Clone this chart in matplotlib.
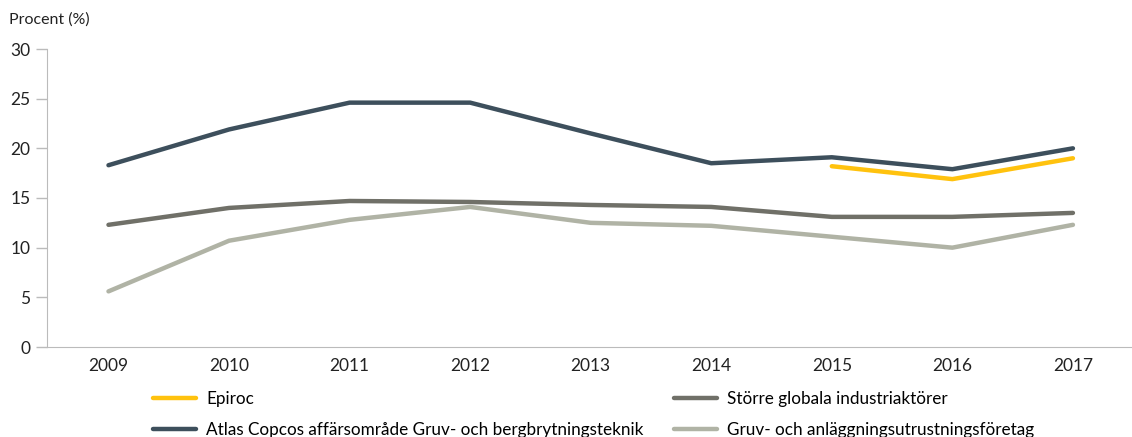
import matplotlib.pyplot as plt

plt.rcParams['font.family'] = ['Lato', 'DejaVu Sans']

years = [2009, 2010, 2011, 2012, 2013, 2014, 2015, 2016, 2017]
epiroc_years = [2015, 2016, 2017]
epiroc = [18.2, 16.9, 19.0]
atlas = [18.3, 21.9, 24.6, 24.6, 21.5, 18.5, 19.1, 17.9, 20.0]
storre = [12.3, 14.0, 14.7, 14.6, 14.3, 14.1, 13.1, 13.1, 13.5]
gruv = [5.6, 10.7, 12.8, 14.1, 12.5, 12.2, 11.1, 10.0, 12.3]

fig = plt.figure(figsize=(11.32, 4.37), dpi=100)
ax = fig.add_axes([47 / 1132, 1 - 347 / 437, 1085 / 1132, 298 / 437])

lw = 3.2
l1, = ax.plot(epiroc_years, epiroc, color='#ffc20e', lw=lw, solid_capstyle='round', label='Epiroc')
l2, = ax.plot(years, atlas, color='#3d4f5c', lw=lw, solid_capstyle='round',
              label='Atlas Copcos affärsområde Gruv- och bergbrytningsteknik')
l3, = ax.plot(years, storre, color='#707068', lw=lw, solid_capstyle='round',
              label='Större globala industriaktörer')
l4, = ax.plot(years, gruv, color='#b0b3a5', lw=lw, solid_capstyle='round',
              label='Gruv- och anläggningsutrustningsföretag')
# keep epiroc on top
l1.set_zorder(5)

ax.set_xlim(2008.49, 2017.49)
ax.set_ylim(0, 30)
ax.set_xticks(years)
ax.set_yticks([0, 5, 10, 15, 20, 25, 30])
ax.tick_params(axis='x', length=0, pad=8, labelsize=12.5, colors='#222222')
ax.tick_params(axis='y', length=8, width=1, color='#bbbbbb', labelsize=12.5,
               labelcolor='#222222', pad=4)
for s in ['top', 'right']:
    ax.spines[s].set_visible(False)
ax.spines['left'].set_color('#bbbbbb')
ax.spines['bottom'].set_color('#bbbbbb')

fig.text(9 / 1132, 1 - 20 / 437, 'Procent (%)', fontsize=11.5, color='#222222', va='center')

fig.legend(handles=[l1, l2, l3, l4], ncol=2, loc='upper left',
           bbox_to_anchor=(153 / 1132, 1 - 391 / 437), frameon=False,
           fontsize=12.3, handlelength=2.5, handletextpad=0.6, columnspacing=1.8,
           labelspacing=0.85, borderaxespad=0, borderpad=0)

fig.savefig('out.png', dpi=100)
